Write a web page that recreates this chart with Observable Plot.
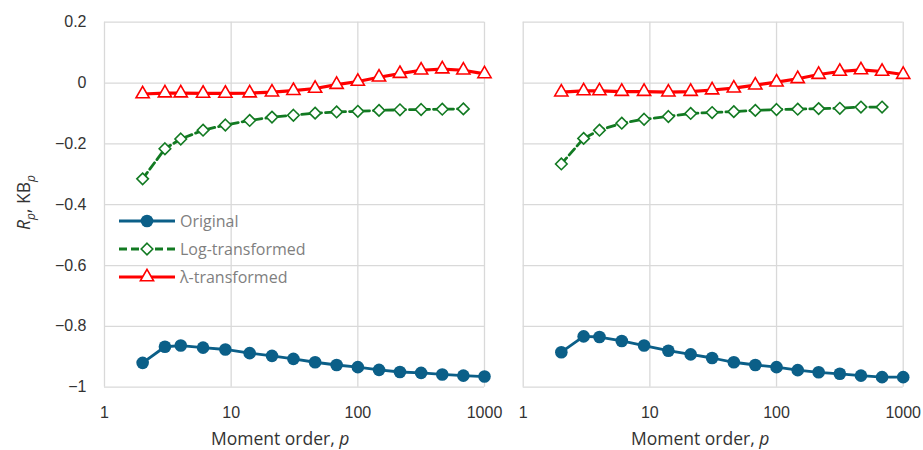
<!DOCTYPE html>
<html>
<head>
<meta charset="utf-8">
<script src="https://cdn.jsdelivr.net/npm/d3@7"></script>
<script src="https://cdn.jsdelivr.net/npm/@observablehq/plot@0.6"></script>
<style>
  body { margin: 0; background: #fff; }
  #wrap { position: relative; width: 923px; height: 450px; font-family: "Liberation Sans", Arial, sans-serif; }
  #plots { display: flex; }
  .ttl { position: absolute; font-family: "Open Sans", "Noto Sans", sans-serif; font-size: 17.5px; color: #333; white-space: nowrap; line-height: 1.2; }
</style>
</head>
<body>
<div id="wrap">
  <div id="plots"></div>
</div>
<script>
// ---- data ----
const p = [2, 3, 4, 6, 9, 14, 21, 31, 46, 68, 100, 147, 215, 316, 464, 681, 1000];
const seriesNames = ["Original", "Log-transformed", "λ-transformed"];
const seriesColors = ["#0b5f88", "#127a22", "#ff0000"];
const xTicks = [1, 10, 100, 1000];
const yTicks = [-1, -0.8, -0.6, -0.4, -0.2, 0, 0.2];

// left panel
const origL = [-0.920, -0.867, -0.863, -0.870, -0.876, -0.888, -0.897, -0.907, -0.918, -0.927, -0.934, -0.943, -0.950, -0.953, -0.958, -0.962, -0.965];
const logL  = [-0.315, -0.216, -0.184, -0.155, -0.138, -0.123, -0.112, -0.106, -0.099, -0.095, -0.093, -0.090, -0.088, -0.087, -0.086, -0.085];
const lamL  = [-0.036, -0.033, -0.033, -0.034, -0.034, -0.033, -0.030, -0.025, -0.018, -0.005, 0.005, 0.019, 0.031, 0.042, 0.046, 0.042, 0.030];
// right panel
const origR = [-0.885, -0.833, -0.835, -0.848, -0.863, -0.880, -0.892, -0.904, -0.918, -0.927, -0.934, -0.944, -0.951, -0.956, -0.962, -0.967, -0.967];
const logR  = [-0.266, -0.182, -0.155, -0.132, -0.119, -0.110, -0.100, -0.097, -0.094, -0.090, -0.087, -0.086, -0.084, -0.083, -0.079, -0.079];
const lamR  = [-0.030, -0.026, -0.026, -0.028, -0.028, -0.030, -0.028, -0.023, -0.017, -0.007, 0.003, 0.014, 0.028, 0.038, 0.043, 0.038, 0.028];

function rows(vals) {
  return vals.map((v, i) => ({p: p[i], v}));
}
const fmtY = v => (v < 0 ? "\u2212" : "") + String(Math.abs(Math.round(v * 10) / 10));

function panel(series, {width, marginLeft, marginRight, showY}) {
  const [o, l, r] = series.map(rows);
  return Plot.plot({
    width, height: 450,
    marginLeft, marginRight, marginTop: 21.7, marginBottom: 63.3,
    style: {fontFamily: "'Liberation Sans', Arial, sans-serif", fontSize: "16px", color: "#404040", overflow: "visible"},
    x: {type: "log", domain: [1, 1000], axis: null},
    y: {domain: [-1, 0.2], axis: null},
    marks: [
      Plot.gridX(xTicks, {stroke: "#d9d9d9", strokeOpacity: 1, strokeWidth: 1.3}),
      Plot.gridY(yTicks, {stroke: "#d9d9d9", strokeOpacity: 1, strokeWidth: 1.3}),
      showY ? Plot.axisY(yTicks, {tickSize: 0, tickPadding: 18, tickFormat: fmtY, label: null, fill: "#333"}) : null,
      Plot.axisX(xTicks, {tickSize: 0, tickPadding: 19, tickFormat: d => String(d), label: null, fill: "#333"}),
      Plot.line(o, {x: "p", y: "v", stroke: seriesColors[0], strokeWidth: 2.8}),
      Plot.dot(o, {x: "p", y: "v", fill: seriesColors[0], r: 6.3}),
      Plot.line(l, {x: "p", y: "v", stroke: seriesColors[1], strokeWidth: 2.8, strokeDasharray: "8,4"}),
      Plot.dot(l, {x: "p", y: "v", symbol: "diamond2", r: 5.2, fill: "white", stroke: seriesColors[1], strokeWidth: 1.6}),
      Plot.line(r, {x: "p", y: "v", stroke: seriesColors[2], strokeWidth: 3.2}),
      Plot.dot(r, {x: "p", y: "v", symbol: "triangle2", r: 6.3, fill: "white", stroke: seriesColors[2], strokeWidth: 1.6})
    ]
  });
}

const plots = document.getElementById("plots");
plots.append(panel([origL, logL, lamL], {width: 500, marginLeft: 104, marginRight: 16, showY: true}));
plots.append(panel([origR, logR, lamR], {width: 423, marginLeft: 22.7, marginRight: 20.3, showY: false}));

const wrap = document.getElementById("wrap");

// axis titles
function addTitle(html, style) {
  const d = document.createElement("div");
  d.className = "ttl";
  d.innerHTML = html;
  Object.assign(d.style, style);
  wrap.append(d);
  return d;
}
const xt = '<span>Moment order, </span><i>p</i>';
const t1 = addTitle(xt, {top: "428px"});
t1.style.left = (280 - t1.offsetWidth / 2) + "px";
const t2 = addTitle(xt, {top: "428px"});
t2.style.left = (700 - t2.offsetWidth / 2) + "px";
const yt = addTitle('<i>R</i><sub style="font-size:12px"><i>p</i></sub>, KB<sub style="font-size:12px"><i>p</i></sub>', {});
yt.style.left = (25 - yt.offsetWidth / 2) + "px";
yt.style.top = (202 - yt.offsetHeight / 2) + "px";
yt.style.transform = "rotate(-90deg)";

// legend
const leg = d3.select(wrap).append("svg")
  .attr("width", 200).attr("height", 90)
  .style("position", "absolute").style("left", "110px").style("top", "200px").style("overflow", "visible");
const legY = [21, 49, 77];
const dash = [null, "8,4", null];
const widths = [2.8, 2.8, 3.2];
seriesNames.forEach((name, i) => {
  const g = leg.append("g").attr("transform", `translate(0,${legY[i]})`);
  g.append("line").attr("x1", 9).attr("x2", 65).attr("stroke", seriesColors[i])
    .attr("stroke-width", widths[i]).attr("stroke-dasharray", dash[i]);
  const sym = [d3.symbolCircle, d3.symbolDiamond2, d3.symbolTriangle2][i];
  const size = Math.PI * [6.3, 5.2, 6.3][i] ** 2;
  g.append("path").attr("transform", "translate(37,0)").attr("d", d3.symbol(sym, size)())
    .attr("fill", i === 0 ? seriesColors[0] : "white")
    .attr("stroke", i === 0 ? "none" : seriesColors[i]).attr("stroke-width", 1.6);
  g.append("text").attr("x", 70).attr("dy", "0.35em").text(name)
    .attr("fill", "#7f7f7f").style("font-family", "'Open Sans', 'Noto Sans', sans-serif").style("font-size", "16px");
});
</script>
</body>
</html>
